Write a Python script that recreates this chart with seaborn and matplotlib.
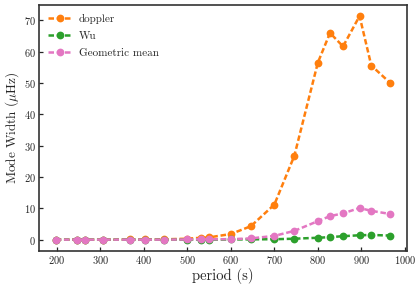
import numpy as np
import pandas as pd
import matplotlib
matplotlib.use("Agg")
import matplotlib.pyplot as plt
import seaborn as sns

# periods (s)
period = [197, 245, 265, 306, 368, 402, 446, 499, 531, 549,
          600, 646, 700, 746, 800, 828, 858, 896, 923, 966]

# mode widths (uHz)
doppler = [0.0, 0.0, 0.0, 0.0, 0.05, 0.05, 0.1, 0.3, 0.6, 0.7,
           1.8, 4.3, 11.2, 26.8, 56.5, 66.0, 61.7, 71.4, 55.6, 50.1]
wu = [0.0, 0.0, 0.0, 0.0, 0.0, 0.0, 0.0, 0.0, 0.0, 0.0,
      0.05, 0.1, 0.13, 0.3, 0.6, 0.8, 1.1, 1.4, 1.5, 1.3]
geo_mean = [0.0, 0.0, 0.0, 0.0, 0.0, 0.0, 0.0, 0.05, 0.1, 0.1,
            0.15, 0.4, 1.2, 2.8, 5.9, 7.5, 8.4, 10.1, 9.2, 8.2]

sns.set_style("ticks")
plt.rcParams["font.family"] = "serif"
plt.rcParams["font.serif"] = ["cmr10", "DejaVu Serif"]
plt.rcParams["mathtext.fontset"] = "cm"
plt.rcParams["axes.formatter.use_mathtext"] = True

df = pd.DataFrame({"period": period, "doppler": doppler,
                   "Wu": wu, "Geometric mean": geo_mean})
long = df.melt(id_vars="period", var_name="model", value_name="width")

fig, ax = plt.subplots(figsize=(4.15, 2.86), dpi=100)
palette = {"doppler": "#ff7f0e", "Wu": "#2ca02c", "Geometric mean": "#e377c2"}
for name in ["doppler", "Wu", "Geometric mean"]:
    sub = long[long["model"] == name]
    sns.lineplot(data=sub, x="period", y="width", ax=ax, color=palette[name],
                 linestyle=(0, (2.2, 1.1)), linewidth=1.8, marker="o", markersize=5.6,
                 markeredgewidth=0, label=name)

ax.set_xlabel("period (s)", fontsize=10.5, labelpad=1.5)
ax.set_ylabel(r"Mode Width ($\mu$Hz)", fontsize=9.5, labelpad=2)
ax.set_xticks(range(200, 1001, 100))
ax.set_yticks(range(0, 71, 10))
ax.tick_params(direction="in", labelsize=7.5, width=0.9, length=3, pad=2.5)
for s in ax.spines.values():
    s.set_linewidth(1.2)
    s.set_color("#333333")
ax.legend(loc="upper left", frameon=False, fontsize=8, handlelength=2.2,
          borderaxespad=0.4, handletextpad=0.6, labelspacing=0.65)

fig.subplots_adjust(left=0.094, right=0.98, top=0.983, bottom=0.123)
fig.savefig("out.png", dpi=100)
